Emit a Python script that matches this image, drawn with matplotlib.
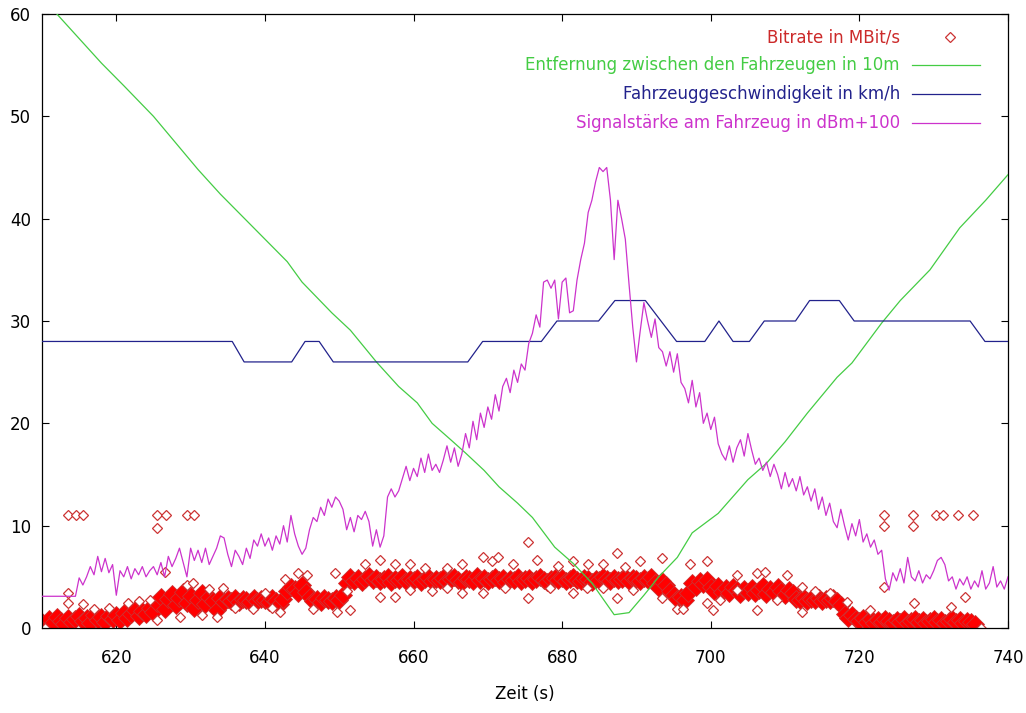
"""
Messfahrt: Bitrate, Abstand, Geschwindigkeit und Signalstaerke ueber der Zeit.
Nachbau eines gnuplot-Diagramms, Ausgabe in out.png
"""
import numpy as np
import matplotlib
matplotlib.use("Agg")
import matplotlib.pyplot as plt
from matplotlib.lines import Line2D

# ---------------------------------------------------------------- Daten
# Bitrate (MBit/s), Kernband alle 0.5 s von 610 bis 735.5 s
t_bitrate = np.arange(610, 736, 0.5)
bitrate = [
    0.6, 0.3, 0.9, 0.5, 1.1, 0.7, 0.4, 1.0, 0.6, 0.9,
    1.2, 0.7, 1.0, 0.5, 1.3, 0.8, 1.1, 0.6, 1.2, 0.9,
    1.3, 0.8, 1.5, 1.0, 1.4, 1.8, 1.2, 1.7, 1.4, 2.0,
    1.6, 2.4, 3.0, 1.9, 2.8, 3.3, 2.2, 2.9, 3.5, 2.4,
    3.1, 2.0, 2.7, 3.4, 2.3, 3.0, 2.6, 1.8, 2.9, 2.5,
    2.8, 2.6, 2.9, 2.5, 2.8, 2.7, 2.5, 2.9, 2.6, 2.8,
    2.7, 2.5, 2.9, 2.6, 2.3, 2.8, 3.6, 4.0, 3.8, 3.4,
    4.2, 3.5, 3.0, 2.6, 2.8, 2.5, 2.9, 2.7, 2.6, 2.9,
    2.7, 3.2, 4.4, 5.0, 4.6, 4.9, 4.5, 4.8, 5.1, 4.7,
    4.9, 4.6, 4.8, 5.0, 4.5, 4.8, 4.7, 5.0, 4.6, 4.8,
    4.7, 4.9, 4.5, 4.8, 5.0, 4.6, 4.8, 4.7, 4.9, 4.6,
    4.8, 5.0, 4.7, 4.5, 4.9, 4.8, 4.6, 5.1, 4.7, 4.9,
    4.6, 4.8, 5.0, 4.7, 4.9, 4.5, 4.8, 4.7, 5.0, 4.6,
    4.8, 4.9, 4.6, 4.8, 5.0, 4.7, 4.5, 4.8, 4.9, 4.7,
    4.9, 4.6, 4.8, 5.0, 4.7, 4.6, 4.9, 4.8, 4.5, 4.8,
    4.7, 5.0, 4.8, 4.6, 4.9, 4.7, 4.8, 5.0, 4.6, 4.9,
    4.8, 4.6, 4.9, 4.7, 5.0, 4.4, 3.9, 4.6, 4.2, 3.6,
    3.2, 2.8, 3.0, 2.7, 3.4, 4.4, 4.0, 4.6, 4.3, 4.7,
    4.0, 3.6, 4.1, 3.5, 3.9, 3.4, 4.0, 3.7, 3.3, 3.8,
    3.5, 3.9, 3.4, 3.7, 4.1, 3.3, 3.8, 3.5, 4.0, 3.6,
    3.2, 3.7, 3.4, 2.8, 2.7, 2.9, 2.6, 2.8, 2.7, 2.9,
    2.6, 2.8, 2.7, 2.9, 2.6, 2.2, 1.4, 1.0, 1.3, 0.9,
    0.7, 1.0, 0.6, 0.9, 0.5, 0.8, 0.6, 0.9, 0.7, 0.5,
    0.8, 0.6, 0.9, 0.5, 0.7, 0.9, 0.6, 0.8, 0.5, 0.7,
    0.9, 0.6, 0.8, 0.5, 0.7, 0.9, 0.6, 0.8, 0.5, 0.7,
    0.6, 0.4,
]

# Bitrate, einzelne Streupunkte neben dem Band
t_streu = [
    613.5, 613.5, 615.5, 610.4, 617.0, 619.0, 621.6, 623.0, 624.5, 625.5,
    626.6, 628.6, 629.5, 630.3, 631.5, 632.5, 633.5, 634.4, 636.0, 638.4,
    640.0, 641.0, 642.0, 642.7, 644.5, 645.6, 646.5, 649.4, 649.7, 651.5,
    651.0, 653.5, 655.5, 655.5, 657.5, 657.5, 659.5, 659.5, 661.5, 662.5,
    664.5, 664.5, 666.5, 666.5, 669.4, 669.4, 670.6, 671.4, 672.3, 673.4,
    675.4, 675.4, 676.6, 678.4, 679.5, 681.5, 681.5, 683.4, 683.5, 685.5,
    685.5, 687.4, 687.4, 688.5, 689.5, 690.5, 693.4, 693.4, 695.5, 696.3,
    697.2, 699.5, 699.5, 700.3, 701.3, 703.5, 703.5, 706.2, 706.2, 707.3,
    708.9, 710.3, 712.3, 712.3, 714.0, 716.0, 718.3, 721.4, 723.3, 727.3,
    732.3, 734.2, 736.3,
    613.5, 614.6, 615.5, 625.5, 626.7, 625.5, 629.5, 630.5,
    723.3, 723.3, 727.2, 727.2, 730.3, 731.3, 733.3, 735.3,
]
bitrate_streu = [
    3.4, 2.4, 2.3, 0.0, 1.9, 2.0, 2.4, 2.6, 2.7, 0.8,
    5.5, 1.1, 4.2, 4.4, 1.3, 3.8, 1.1, 3.9, 2.0, 1.9,
    3.4, 2.0, 1.6, 4.8, 5.4, 5.2, 1.9, 5.4, 1.6, 1.8,
    3.6, 6.3, 6.6, 3.0, 6.3, 3.0, 6.3, 3.7, 5.9, 3.6,
    5.9, 3.9, 6.3, 3.4, 6.9, 3.4, 6.5, 6.9, 3.9, 6.3,
    8.4, 2.9, 6.6, 3.9, 6.1, 6.5, 3.4, 3.9, 6.3, 6.3,
    3.9, 7.3, 2.9, 6.0, 3.7, 6.5, 6.8, 2.9, 1.9, 1.9,
    6.3, 6.5, 2.4, 1.8, 2.7, 5.2, 3.7, 5.4, 1.8, 5.5,
    2.7, 5.2, 1.6, 4.0, 3.6, 3.4, 2.5, 1.8, 4.0, 2.4,
    2.1, 3.0, 0.0,
    11.0, 11.0, 11.0, 11.0, 11.0, 9.8, 11.0, 11.0,
    11.0, 10.0, 11.0, 10.0, 11.0, 11.0, 11.0, 11.0,
]

# Entfernung zwischen den Fahrzeugen (in 10 m)
t_abstand = [
    610, 612, 615, 618, 621, 625, 628, 631, 634, 637,
    640, 643, 645, 649, 651.5, 655, 658, 660.5, 662.5, 665,
    667, 669.5, 671.5, 674, 676, 679, 681.5, 684, 687, 689,
    691, 693, 695.5, 697.5, 701, 705, 707.5, 710, 713, 717,
    719, 723, 725.5, 729.5, 733.5, 737, 740,
]
abstand = [
    61.8, 60.0, 57.6, 55.2, 53.0, 50.0, 47.4, 44.8, 42.4, 40.2,
    38.0, 35.8, 33.8, 30.8, 29.1, 26.0, 23.6, 22.0, 20.0, 18.4,
    17.1, 15.4, 13.8, 12.2, 10.8, 7.9, 6.3, 4.4, 1.3, 1.5,
    3.2, 5.0, 6.9, 9.3, 11.2, 14.5, 16.1, 18.2, 21.0, 24.5,
    25.9, 29.8, 32.0, 35.0, 39.1, 41.8, 44.3,
]

# Fahrzeuggeschwindigkeit (km/h)
t_speed = [
    610, 635.6, 637.2, 643.6, 645.4, 647.3, 649.2, 667.3, 669.3, 677.2,
    679.3, 684.9, 687.1, 691.2, 695.4, 699.2, 701.1, 703.0, 705.2, 707.2,
    711.4, 713.3, 717.3, 719.3, 734.9, 736.9, 740,
]
speed = [
    28, 28, 26, 26, 28, 28, 26, 26, 28, 28,
    30, 30, 32, 32, 28, 28, 30, 28, 28, 30,
    30, 32, 32, 30, 30, 28, 28,
]

# Signalstaerke am Fahrzeug (dBm + 100), alle 0.5 s von 610 bis 740 s
t_signal = np.arange(610, 740.5, 0.5)
signal = [
    3.1, 3.1, 3.1, 3.1, 3.1, 3.1, 3.1, 3.1, 3.1, 3.1,
    4.9, 4.2, 5.0, 6.0, 5.2, 7.0, 5.5, 6.8, 5.4, 6.2,
    3.2, 5.6, 5.0, 6.0, 4.8, 5.8, 5.2, 6.0, 5.0, 5.6,
    6.0, 5.2, 6.4, 5.0, 7.0, 6.0, 6.8, 7.8, 6.4, 5.0,
    7.8, 6.6, 7.6, 6.4, 7.8, 6.2, 7.0, 7.8, 9.0, 8.8,
    7.2, 6.0, 7.6, 7.0, 6.2, 7.8, 6.8, 8.6, 8.0, 9.2,
    8.0, 8.8, 7.6, 9.0, 8.2, 10.0, 8.4, 11.0, 9.2, 8.0,
    7.2, 7.8, 9.6, 10.8, 10.4, 11.8, 11.0, 12.6, 11.8, 12.8,
    12.4, 11.6, 9.6, 10.8, 9.4, 11.0, 10.6, 11.4, 10.4, 8.0,
    9.6, 7.9, 9.0, 12.8, 13.6, 12.8, 13.4, 14.6, 15.8, 14.4,
    15.6, 14.8, 16.6, 15.2, 17.0, 15.4, 16.0, 15.2, 16.4, 17.8,
    16.2, 17.6, 15.8, 17.0, 19.0, 17.6, 20.2, 18.4, 21.0, 19.6,
    21.6, 20.4, 22.8, 21.2, 23.6, 24.4, 23.0, 25.2, 24.0, 25.8,
    25.2, 27.8, 28.8, 30.6, 29.4, 33.8, 34.0, 33.2, 34.0, 30.2,
    33.8, 34.2, 30.8, 31.0, 34.0, 36.0, 37.6, 40.6, 41.8, 43.6,
    45.0, 44.6, 45.0, 41.8, 36.0, 41.8, 40.0, 38.0, 33.6, 29.4,
    26.0, 29.0, 31.8, 30.0, 28.4, 30.2, 27.4, 27.0, 25.6, 27.0,
    25.0, 26.8, 24.0, 23.4, 22.0, 24.2, 21.6, 23.0, 20.0, 21.0,
    19.4, 20.6, 18.0, 17.0, 16.4, 17.8, 16.2, 17.6, 18.4, 16.8,
    19.0, 17.4, 16.0, 16.6, 15.4, 16.2, 14.8, 16.0, 15.0, 13.6,
    15.2, 13.8, 14.6, 13.4, 14.8, 13.0, 13.8, 12.4, 13.6, 11.6,
    12.8, 11.0, 12.2, 10.4, 9.8, 11.6, 10.0, 8.6, 10.2, 9.0,
    10.6, 8.4, 9.2, 7.9, 8.6, 7.2, 7.6, 4.8, 3.7, 5.4,
    4.6, 5.8, 4.4, 6.9, 5.0, 4.6, 5.6, 4.4, 5.2, 4.8,
    5.6, 6.6, 6.9, 6.2, 4.6, 5.0, 3.8, 4.8, 4.2, 5.0,
    3.8, 4.6, 4.0, 5.6, 3.8, 4.4, 6.0, 4.0, 4.6, 3.8,
    5.0,
]

labels = [
    "Bitrate in MBit/s",
    "Entfernung zwischen den Fahrzeugen in 10m",
    "Fahrzeuggeschwindigkeit in km/h",
    "Signalstärke am Fahrzeug in dBm+100",
]

# Farben wie im gnuplot-Original
ROT, ROT_RAND = "#ff0000", "#cc3333"
GRUEN, BLAU, MAGENTA = "#44cc44", "#22228c", "#cc33cc"

# ---------------------------------------------------------------- Grafik
plt.rcParams["font.family"] = ["DejaVu Sans"]
plt.rcParams["font.size"] = 12

fig = plt.figure(figsize=(10.26, 7.13), dpi=100)
ax = fig.add_axes([42 / 1026, 85 / 713, 966 / 1026, 614 / 713])

# Bitrate: Kernband gefuellt, Streupunkte als offene Rauten
ax.plot(t_bitrate, bitrate, ls="none", marker="D", ms=9,
        mfc=ROT, mec=ROT_RAND, mew=0.6, zorder=2)
ax.plot(t_streu, bitrate_streu, ls="none", marker="D", ms=5.5,
        mfc="white", mec=ROT_RAND, mew=0.9, zorder=2)

ax.plot(t_abstand, abstand, color=GRUEN, lw=0.9, zorder=3)
ax.plot(t_speed, speed, color=BLAU, lw=0.9, zorder=3)
ax.plot(t_signal, signal, color=MAGENTA, lw=0.9, zorder=4)

ax.set_xlim(610, 740)
ax.set_ylim(0, 60)
ax.set_xticks(range(620, 741, 20))
ax.set_yticks(range(0, 61, 10))
ax.tick_params(direction="in", length=5, width=0.8, top=True, right=True,
               labelsize=12, colors="black")
ax.tick_params(axis="x", pad=15)
ax.tick_params(axis="y", pad=8)
for sp in ax.spines.values():
    sp.set_linewidth(0.9)
ax.set_xlabel("Zeit (s)", fontsize=12, labelpad=13)

# Legende von Hand (Text rechtsbuendig wie bei gnuplot)
farben_text = ["#cc2a2a", GRUEN, BLAU, MAGENTA]
ys = [0.9625, 0.9169, 0.8697, 0.8225]
for lab, col, y in zip(labels, farben_text, ys):
    ax.text(0.888, y, lab, color=col, ha="right", va="center",
            fontsize=12, transform=ax.transAxes)
ax.add_line(Line2D([0.940], [ys[0]], ls="none", marker="D", ms=5.5,
                   mfc="white", mec=ROT_RAND, mew=0.9, transform=ax.transAxes))
for col, y in zip([GRUEN, BLAU, MAGENTA], ys[1:]):
    ax.add_line(Line2D([0.9006, 0.9710], [y, y], color=col, lw=0.9,
                       transform=ax.transAxes))

fig.savefig("out.png", dpi=100)
plt.close(fig)
